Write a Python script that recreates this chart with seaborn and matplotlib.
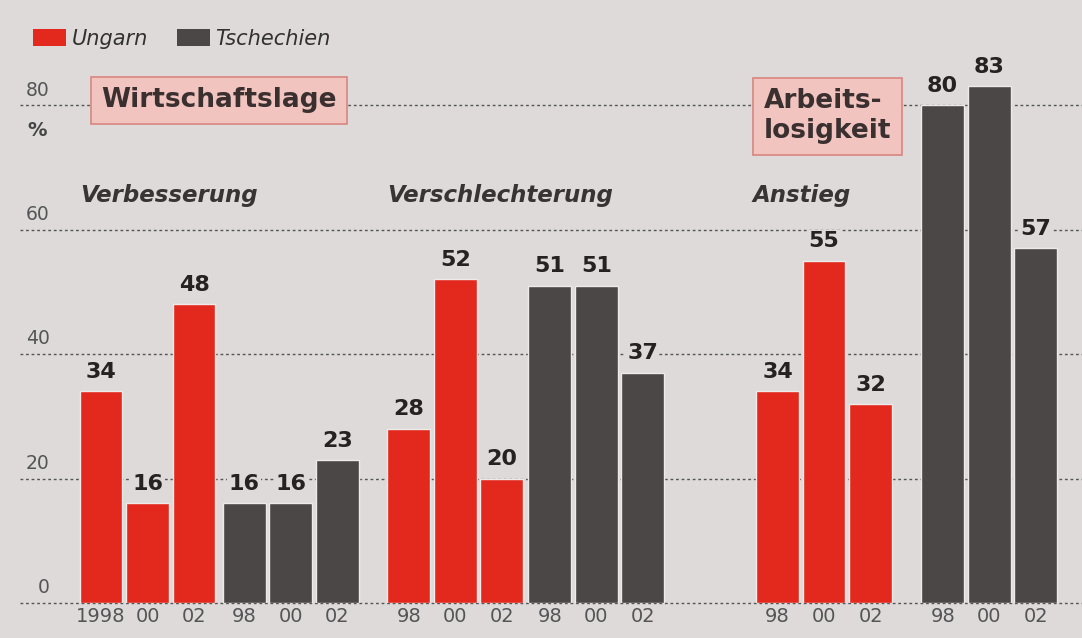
import seaborn as sns
import pandas as pd
import numpy as np
import matplotlib.pyplot as plt
from matplotlib.patches import Patch

# ============ data ============
countries = ["Ungarn", "Tschechien"]
groups = ["Verbesserung", "Verschlechterung", "Anstieg"]
first_years = ["1998", "00", "02"]
years = ["98", "00", "02"]

ungarn_verbesserung = [34, 16, 48]
tschechien_verbesserung = [16, 16, 23]
ungarn_verschlechterung = [28, 52, 20]
tschechien_verschlechterung = [51, 51, 37]
ungarn_anstieg = [34, 55, 32]
tschechien_anstieg = [80, 83, 57]

blocks = [("Ungarn", ungarn_verbesserung),
          ("Tschechien", tschechien_verbesserung),
          ("Ungarn", ungarn_verschlechterung),
          ("Tschechien", tschechien_verschlechterung),
          ("Ungarn", ungarn_anstieg),
          ("Tschechien", tschechien_anstieg)]

# layout: where each block of three bars starts on the x axis
block_starts = [0, 3.08, 6.62, 9.65, 14.55, 18.1]

rows = []
tick_labels = []
for b, (land, vals) in enumerate(blocks):
    for j, v in enumerate(vals):
        rows.append([block_starts[b] + j, v, land])
        tick_labels.append(first_years[j] if b == 0 else years[j])
data = pd.DataFrame(rows, columns=["pos", "value", "land"])

# ============ style ============
bg = "#dedad9"
red = "#e3291d"
grey = "#4b4747"
plt.rcParams['font.family'] = ['DejaVu Sans']

fig = plt.figure(figsize=(10.82, 6.38), dpi=100, facecolor=bg)
ax = fig.add_axes([20 / 1082, 1 - 603 / 638, 1 - 20 / 1082, 603 / 638])
ax.set_facecolor(bg)

for v in [0, 20, 40, 60, 80]:
    ax.axhline(v, color="#555555", lw=1, ls=(0, (2, 2)), zorder=0,
               clip_on=False)

sns.barplot(data=data, x="pos", y="value", hue="land",
            palette={"Ungarn": red, "Tschechien": grey}, saturation=1,
            native_scale=True, dodge=False, width=0.92,
            edgecolor="#eeeaea", linewidth=1, legend=False, ax=ax, zorder=2)

ax.set_xlim(-1.742, 21.097)
ax.set_ylim(0, 96.9)
for s in ax.spines.values():
    s.set_visible(False)
ax.set_xlabel("")
ax.set_ylabel("")
ax.set_yticks([])
ax.set_xticks(data["pos"])
ax.set_xticklabels(tick_labels, fontsize=14, color="#555555")
ax.tick_params(axis="x", length=0, pad=3)

# y labels sit above the dotted lines
for v in [0, 20, 40, 60, 80]:
    ax.text(-1.1, v + 0.9, str(v), ha="right", va="bottom",
            fontsize=13.5, color="#555555")
ax.text(-1.38, 76, "%", ha="center", va="center", fontsize=14,
        color="#444444", fontweight="bold")

# value labels
for _, r in data.iterrows():
    ax.text(r["pos"], r["value"] + 1.5, str(int(r["value"])),
            ha="center", va="bottom", fontsize=16, fontweight="bold",
            color="#262222", zorder=3,
            bbox=dict(facecolor=bg, edgecolor="none", pad=1))

# group headings
sub_x = [-0.45, 6.15, 14.0]
for g, x in zip(groups, sub_x):
    ax.text(x, 65.5, g, ha="left", va="center", fontsize=16.5,
            fontstyle="italic", fontweight="bold", color="#383434")

box = dict(boxstyle="square,pad=0.4", facecolor="#f2c4bf",
           edgecolor="#d98580", linewidth=1.2)
ax.text(2.54, 80.8, "Wirtschaftslage", ha="center", va="center",
        fontsize=19, fontweight="bold", color="#3a3030", bbox=box, zorder=3)
ax.text(15.63, 78.2, "Arbeits-\nlosigkeit", ha="center", va="center",
        multialignment="left", fontsize=19, fontweight="bold",
        color="#3a3030", bbox=box, zorder=3, linespacing=1.2)

# legend
handles = [Patch(facecolor=red, edgecolor="none"),
           Patch(facecolor=grey, edgecolor="none")]
fig.legend(handles, countries, loc="upper left",
           bbox_to_anchor=(14 / 1082, 1 - 10 / 638), ncol=2, frameon=False,
           prop={"style": "italic", "size": 15}, handlelength=1.6,
           handleheight=0.85, handletextpad=0.25, columnspacing=1.4,
           labelcolor="#333030")

fig.savefig("out.png", dpi=100, facecolor=bg)
